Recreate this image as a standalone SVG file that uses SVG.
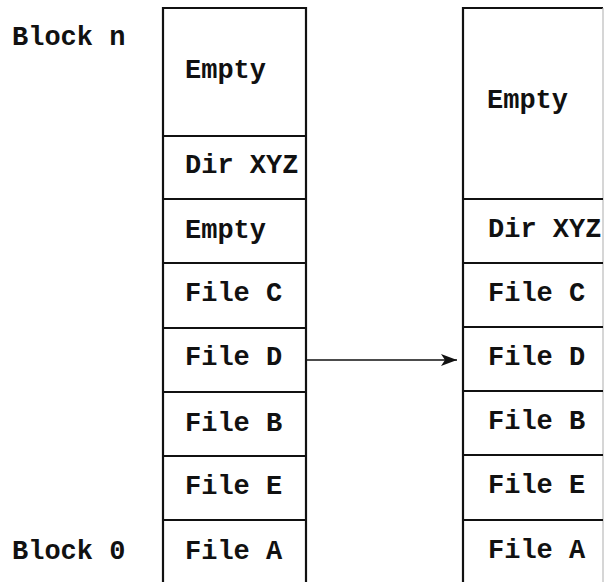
<svg xmlns="http://www.w3.org/2000/svg" width="604" height="582" viewBox="0 0 604 582">
  <style>
    text { font-family: "Liberation Mono", "DejaVu Sans Mono", monospace; font-weight: bold; font-size: 27px; fill: #111; }
    .frame { fill: none; stroke: #111; stroke-width: 2.2; }
    .div { stroke: #111; stroke-width: 2.2; }
    .edge { stroke: #bbb; stroke-width: 1.2; }
    .conn { stroke: #111; stroke-width: 1.6; fill: none; }
  </style>
  <defs>
    <marker id="arrow" viewBox="0 0 16 12" refX="16" refY="6" markerWidth="16" markerHeight="12" markerUnits="userSpaceOnUse" orient="auto">
      <path d="M0,0 L16,6 L0,12 L4,6 Z" fill="#111"/>
    </marker>
  </defs>
  <rect width="604" height="582" fill="#fff"/>

  <!-- side labels -->
  <g id="labels">
    <text x="12" y="45">Block n</text>
    <text x="12" y="559">Block 0</text>
  </g>

  <!-- disk before compaction -->
  <g id="disk-before">
    <path class="frame" d="M163,590 V8 H306 V590"/>
    <line class="div" x1="163" y1="136" x2="306" y2="136"/>
    <line class="div" x1="163" y1="199" x2="306" y2="199"/>
    <line class="div" x1="163" y1="263" x2="306" y2="263"/>
    <line class="div" x1="163" y1="328" x2="306" y2="328"/>
    <line class="div" x1="163" y1="392" x2="306" y2="392"/>
    <line class="div" x1="163" y1="456" x2="306" y2="456"/>
    <line class="div" x1="163" y1="520" x2="306" y2="520"/>
    <g id="b-empty-top"><text x="185" y="78">Empty</text></g>
    <g id="b-dir"><text x="185" y="173">Dir XYZ</text></g>
    <g id="b-empty"><text x="185" y="238">Empty</text></g>
    <g id="b-file-c"><text x="185" y="301">File C</text></g>
    <g id="b-file-d"><text x="185" y="365">File D</text></g>
    <g id="b-file-b"><text x="185" y="431">File B</text></g>
    <g id="b-file-e"><text x="185" y="494">File E</text></g>
    <g id="b-file-a"><text x="185" y="559">File A</text></g>
  </g>

  <!-- disk after compaction -->
  <g id="disk-after">
    <path class="frame" d="M463,590 V8 H603"/>
    <line class="edge" x1="603" y1="8" x2="603" y2="590"/>
    <line class="div" x1="463" y1="199" x2="603" y2="199"/>
    <line class="div" x1="463" y1="263" x2="603" y2="263"/>
    <line class="div" x1="463" y1="327" x2="603" y2="327"/>
    <line class="div" x1="463" y1="391" x2="603" y2="391"/>
    <line class="div" x1="463" y1="455" x2="603" y2="455"/>
    <line class="div" x1="463" y1="520" x2="603" y2="520"/>
    <g id="a-empty"><text x="487" y="108">Empty</text></g>
    <g id="a-dir"><text x="488" y="237">Dir XYZ</text></g>
    <g id="a-file-c"><text x="488" y="301">File C</text></g>
    <g id="a-file-d"><text x="488" y="365">File D</text></g>
    <g id="a-file-b"><text x="488" y="429">File B</text></g>
    <g id="a-file-e"><text x="488" y="493">File E</text></g>
    <g id="a-file-a"><text x="488" y="558">File A</text></g>
  </g>

  <!-- connectors -->
  <g id="connectors">
    <line class="conn" x1="307" y1="360" x2="457" y2="360" marker-end="url(#arrow)"/>
  </g>
</svg>
